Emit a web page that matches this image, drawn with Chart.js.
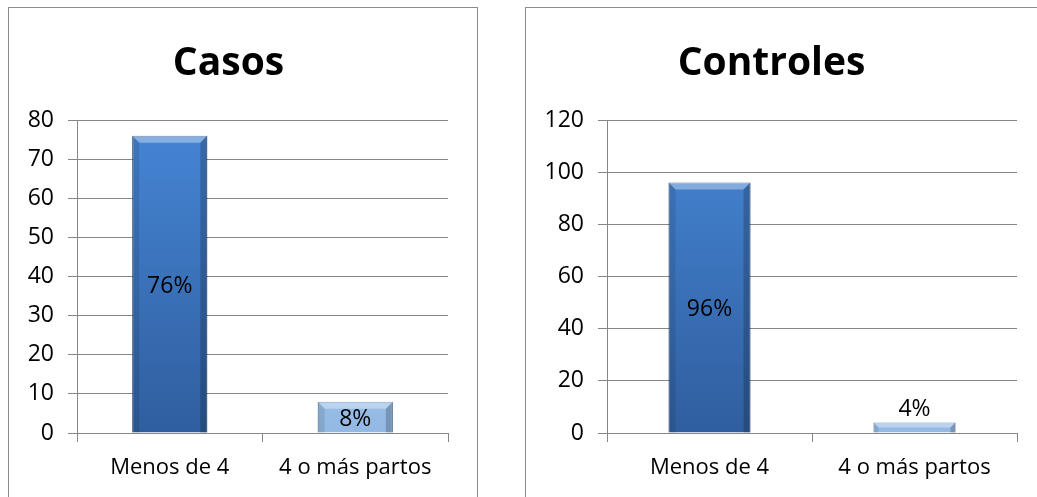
<!DOCTYPE html>
<html>
<head>
<meta charset="utf-8">
<script src="https://cdn.jsdelivr.net/npm/chart.js@4.4.1/dist/chart.umd.min.js"></script>
<style>
  body { margin:0; background:#fff; width:1037px; height:497px; overflow:hidden; position:relative; }
  .panel { position:absolute; border:1px solid #8c8c8c; height:520px; box-sizing:border-box; }
  .wrap { position:absolute; }
</style>
</head>
<body>
<div class="panel" style="left:8px;top:7px;width:470px;"></div>
<div class="panel" style="left:525px;top:7px;width:540px;"></div>
<div class="wrap" style="left:9px;top:8px;width:467px;height:489px;"><canvas id="casos"></canvas></div>
<div class="wrap" style="left:526px;top:8px;width:511px;height:489px;"><canvas id="controles"></canvas></div>
<script>
const categories = ["Menos de 4", "4 o más partos"];
const casosValues = [76, 8];
const casosLabels = ["76%", "8%"];
const controlesValues = [96, 4];
const controlesLabels = ["96%", "4%"];

const FONT = "'Open Sans', sans-serif";

// vertical gradient per bar colour
function barFill(ctx) {
  const chart = ctx.chart;
  const area = chart.chartArea;
  if (!area) return '#3c78c8';
  const g = chart.ctx.createLinearGradient(0, area.top, 0, area.bottom);
  if (ctx.dataIndex === 0) {
    g.addColorStop(0, '#4686d6');
    g.addColorStop(1, '#2f5e9e');
  } else {
    g.addColorStop(0, '#b9d6f4');
    g.addColorStop(1, '#93b9e4');
  }
  return g;
}

// bevel + value labels drawn from the bar elements
const barDecor = {
  id: 'barDecor',
  afterDatasetsDraw(chart, args, opts) {
    const c = chart.ctx;
    const meta = chart.getDatasetMeta(0);
    meta.data.forEach((bar, i) => {
      const left = bar.x - bar.width / 2, right = bar.x + bar.width / 2;
      const top = bar.y, base = bar.base;
      const b = Math.min(7, (base - top) / 2);
      c.save();
      c.fillStyle = 'rgba(255,255,255,0.35)';
      c.beginPath(); c.moveTo(left, top); c.lineTo(right, top); c.lineTo(right - b, top + b); c.lineTo(left + b, top + b); c.closePath(); c.fill();
      c.fillStyle = 'rgba(0,0,0,0.1)';
      c.beginPath(); c.moveTo(left, top); c.lineTo(left + b, top + b); c.lineTo(left + b, base); c.lineTo(left, base); c.closePath(); c.fill();
      c.fillStyle = 'rgba(0,0,0,0.2)';
      c.beginPath(); c.moveTo(right, top); c.lineTo(right - b, top + b); c.lineTo(right - b, base); c.lineTo(right, base); c.closePath(); c.fill();
      c.restore();

      c.save();
      c.font = "23px " + FONT;
      c.fillStyle = '#000';
      c.textAlign = 'center';
      c.textBaseline = 'middle';
      const txt = opts.labels[i];
      const y = (base - top) > 25 ? (top + base) / 2 + 2 : top - 13;
      c.fillText(txt, bar.x, y);
      c.restore();
    });
  }
};

function makeChart(id, title, values, labels, max, step, axisWidth, padRight, barPct) {
  new Chart(document.getElementById(id), {
    type: 'bar',
    data: {
      labels: categories,
      datasets: [{
        data: values,
        backgroundColor: barFill,
        borderColor: ['#2a4b7c', '#4a78ae'],
        borderWidth: 1,
        categoryPercentage: 1,
        barPercentage: barPct
      }]
    },
    options: {
      responsive: true,
      maintainAspectRatio: false,
      animation: false,
      layout: { padding: { right: padRight, left: 0, top: 0, bottom: 0 } },
      plugins: {
        legend: { display: false },
        tooltip: { enabled: false },
        title: {
          display: true,
          text: title,
          color: '#000',
          font: { family: FONT, size: 39, weight: 'bold', lineHeight: 1.2 },
          padding: { top: 32, bottom: 33.2 }
        },
        barDecor: { labels: labels }
      },
      scales: {
        x: {
          grid: { offset: true, drawOnChartArea: false, drawTicks: true, tickLength: 9, color: '#868686' },
          border: { display: true, color: '#868686' },
          ticks: { color: '#000', font: { family: FONT, size: 22 }, padding: 13 },
          afterFit(scale) { scale.height = 64; }
        },
        y: {
          min: 0, max: max,
          grid: { color: '#868686', tickLength: 9 },
          border: { display: true, color: '#868686' },
          ticks: { stepSize: step, color: '#000', font: { family: FONT, size: 23 }, padding: 14 },
          afterFit(scale) { scale.width = axisWidth; }
        }
      }
    },
    plugins: [barDecor]
  });
}

makeChart('casos', 'Casos', casosValues, casosLabels, 80, 10, 68, 28, 0.405);
makeChart('controles', 'Controles', controlesValues, controlesLabels, 120, 20, 81, 20, 0.4);
</script>
</body>
</html>
